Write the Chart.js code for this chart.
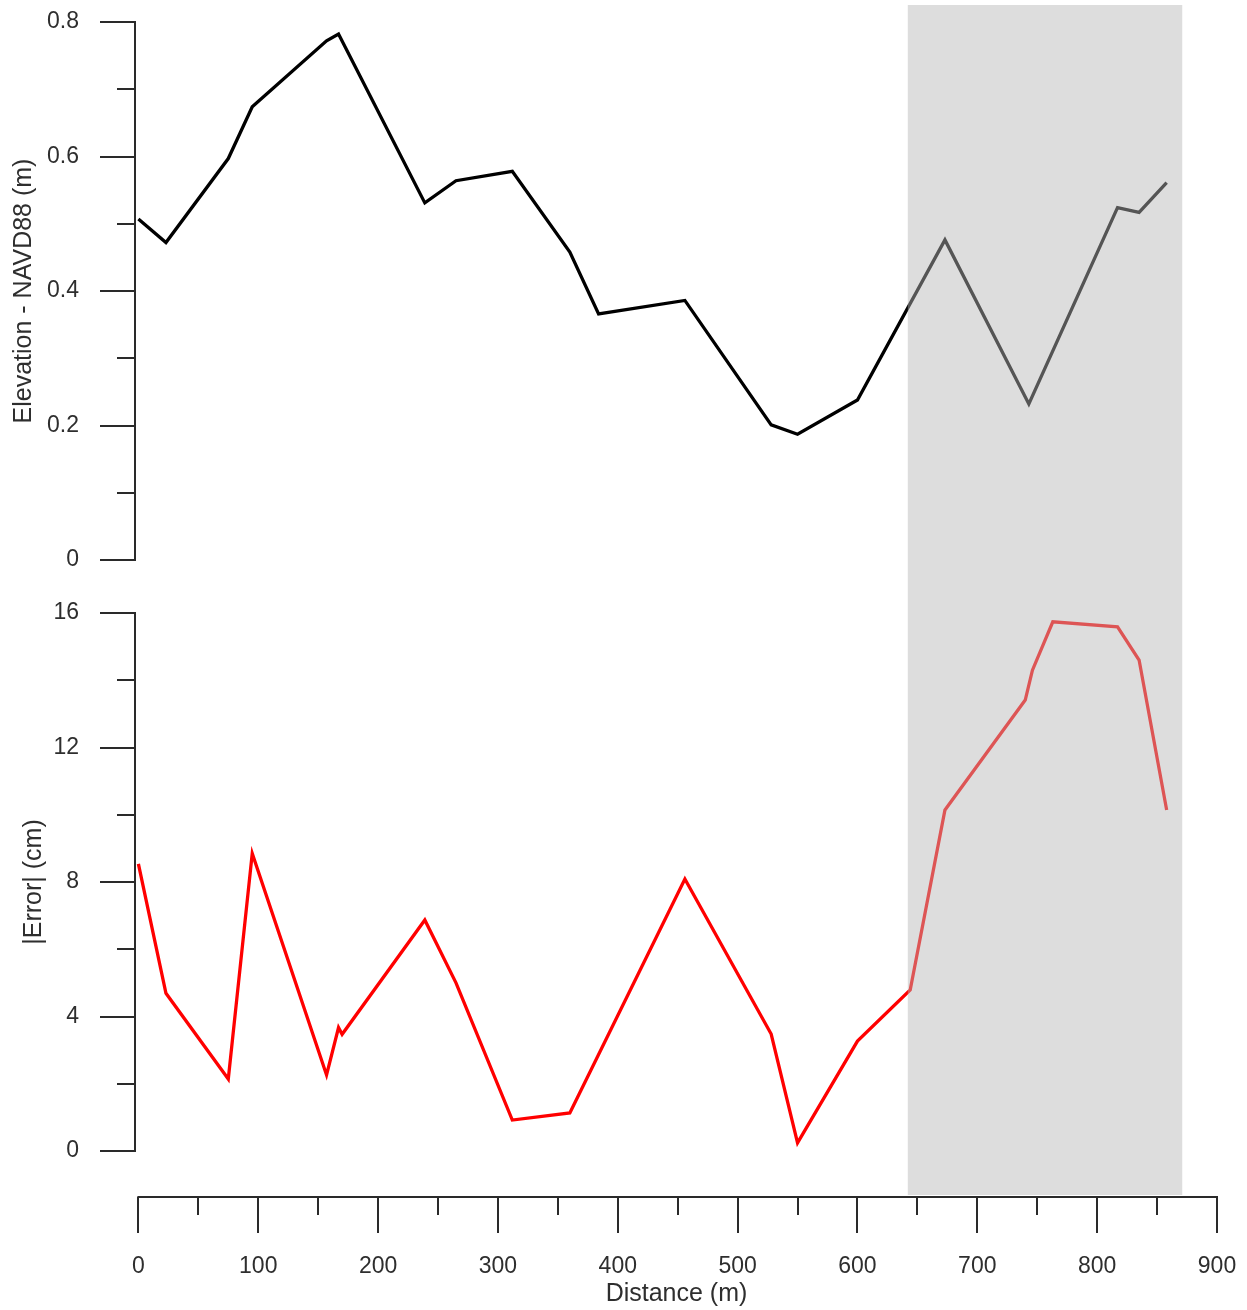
<!DOCTYPE html>
<html>
<head>
<meta charset="utf-8">
<script src="https://cdn.jsdelivr.net/npm/chart.js@4.4.1/dist/chart.umd.min.js"></script>
<style>
  html, body { margin: 0; padding: 0; background: #fff; }
  #wrap { width: 1247px; height: 1310px; }
</style>
</head>
<body>
<div id="wrap"><canvas id="profile"></canvas></div>
<script>
// Transect profile: elevation (top) and absolute error (bottom) vs distance
const elevDistance = [0, 23, 75, 95, 157, 167, 239, 265, 312, 360, 384, 456, 528, 550, 600, 673, 743, 817, 835, 858];
const elevation = [0.507, 0.472, 0.597, 0.674, 0.772, 0.782, 0.531, 0.564, 0.578, 0.458, 0.366, 0.386, 0.201, 0.187, 0.238, 0.476, 0.232, 0.524, 0.517, 0.561];

const errorDistance = [0, 23, 75, 95, 157, 167, 170, 239, 265, 312, 360, 456, 528, 550, 600, 644, 673, 740, 746, 763, 817, 835, 858];
const errorCm = [8.54, 4.69, 2.14, 8.85, 2.26, 3.67, 3.47, 6.87, 5.0, 0.92, 1.13, 8.09, 3.48, 0.24, 3.27, 4.79, 10.14, 13.41, 14.3, 15.74, 15.59, 14.6, 10.14];

// shaded stretch of the transect (m)
const shadeRange = [642, 871];

// tick labels
const distanceTicks = [0, 100, 200, 300, 400, 500, 600, 700, 800, 900];
const elevationTicks = [0, 0.2, 0.4, 0.6, 0.8];
const errorTicks = [0, 4, 8, 12, 16];

const textColor = '#2e2e2e';
const axisColor = '#2a2a2a';
const fontFamily = '"Liberation Sans", Arial, sans-serif';
const tickFont = { family: fontFamily, size: 23 };

function toPoints(xs, ys) {
  return xs.map((x, i) => ({ x: x, y: ys[i] }));
}

// minor ticks sit halfway between the labelled ones
function midpoints(arr) {
  const out = [];
  for (let i = 0; i < arr.length - 1; i++) out.push((arr[i] + arr[i + 1]) / 2);
  return out;
}

// labels overhang is handled by hand, so drop chart.js's label padding
function fitY(s) {
  s.width = 136;
  s.paddingTop = 0;
  s.paddingBottom = 0;
}

// axis lines, tick marks, y titles and the grey band
const profilePlugin = {
  id: 'profilePlugin',
  afterDatasetsDraw(chart) {
    const { ctx, chartArea, scales } = chart;
    const x1 = scales.x.getPixelForValue(shadeRange[0]);
    const x2 = scales.x.getPixelForValue(shadeRange[1]);
    ctx.save();
    ctx.fillStyle = 'rgba(182,182,182,0.467)';
    ctx.fillRect(x1, chartArea.top, x2 - x1, chartArea.bottom - 1 - chartArea.top);
    ctx.restore();
  },
  afterDraw(chart) {
    const { ctx, chartArea, scales } = chart;
    ctx.save();
    ctx.strokeStyle = axisColor;
    ctx.lineWidth = 2;

    const axisX = chartArea.left - 1;
    [[scales.yElev, elevationTicks], [scales.yErr, errorTicks]].forEach(([scale, ticks]) => {
      const yLow = scale.getPixelForValue(ticks[0]);
      const yHigh = scale.getPixelForValue(ticks[ticks.length - 1]);
      ctx.beginPath();
      ctx.moveTo(axisX, yLow + 1);
      ctx.lineTo(axisX, yHigh - 1);
      ticks.forEach(v => {
        const y = Math.round(scale.getPixelForValue(v));
        ctx.moveTo(axisX - 35, y);
        ctx.lineTo(axisX, y);
      });
      midpoints(ticks).forEach(v => {
        const y = Math.round(scale.getPixelForValue(v));
        ctx.moveTo(axisX - 18, y);
        ctx.lineTo(axisX, y);
      });
      ctx.stroke();
    });

    const axisY = chartArea.bottom + 1;
    const xs = scales.x;
    ctx.beginPath();
    ctx.moveTo(xs.getPixelForValue(0) - 1, axisY);
    ctx.lineTo(xs.getPixelForValue(900) + 1, axisY);
    distanceTicks.forEach(v => {
      const x = Math.round(xs.getPixelForValue(v));
      ctx.moveTo(x, axisY);
      ctx.lineTo(x, axisY + 36);
    });
    midpoints(distanceTicks).forEach(v => {
      const x = Math.round(xs.getPixelForValue(v));
      ctx.moveTo(x, axisY);
      ctx.lineTo(x, axisY + 18);
    });
    ctx.stroke();

    // y axis titles
    ctx.fillStyle = textColor;
    ctx.font = '25px ' + fontFamily;
    ctx.textAlign = 'center';
    ctx.textBaseline = 'middle';
    const titles = [
      [scales.yElev, elevationTicks, 'Elevation - NAVD88 (m)', 24],
      [scales.yErr, errorTicks, '|Error| (cm)', 34]
    ];
    titles.forEach(([scale, ticks, text, tx]) => {
      const mid = (scale.getPixelForValue(ticks[0]) + scale.getPixelForValue(ticks[ticks.length - 1])) / 2;
      ctx.save();
      ctx.translate(tx, mid);
      ctx.rotate(-Math.PI / 2);
      ctx.fillText(text, 0, 0);
      ctx.restore();
    });
    ctx.restore();
  }
};

const ctx = document.getElementById('profile').getContext('2d');
const chart = new Chart(ctx, {
  type: 'scatter',
  data: {
    datasets: [
      {
        label: 'Elevation',
        data: toPoints(elevDistance, elevation),
        yAxisID: 'yElev',
        showLine: true,
        borderColor: '#000000',
        borderWidth: 3.3,
        pointRadius: 0,
        fill: false
      },
      {
        label: '|Error|',
        data: toPoints(errorDistance, errorCm),
        yAxisID: 'yErr',
        showLine: true,
        borderColor: '#ff0000',
        borderWidth: 3.3,
        pointRadius: 0,
        fill: false
      }
    ]
  },
  options: {
    responsive: true,
    maintainAspectRatio: false,
    animation: false,
    layout: { padding: { top: 5, right: 30, bottom: 1, left: 0 } },
    plugins: {
      legend: { display: false },
      tooltip: { enabled: false }
    },
    scales: {
      x: {
        type: 'linear',
        position: 'bottom',
        min: -2,
        max: 900,
        afterBuildTicks: s => { s.ticks = distanceTicks.map(v => ({ value: v })); },
        afterFit: s => { s.height = 113; s.paddingLeft = 0; s.paddingRight = 0; },
        grid: { display: false },
        border: { display: false },
        ticks: {
          color: textColor,
          font: tickFont,
          padding: 49,
          maxRotation: 0,
          autoSkip: false,
          callback: v => String(v)
        },
        title: {
          display: true,
          text: 'Distance (m)',
          color: textColor,
          font: { family: fontFamily, size: 25 },
          padding: 0
        }
      },
      yElev: {
        type: 'linear',
        position: 'left',
        stack: 'panels',
        stackWeight: 581.5,
        weight: 2,
        min: -0.0394,
        max: 0.8253,
        afterBuildTicks: s => { s.ticks = elevationTicks.map(v => ({ value: v })); },
        afterFit: fitY,
        grid: { display: false },
        border: { display: false },
        ticks: { color: textColor, font: tickFont, padding: 49, callback: v => String(v) }
      },
      yErr: {
        type: 'linear',
        position: 'left',
        stack: 'panels',
        stackWeight: 609.5,
        weight: 1,
        min: -1.338,
        max: 16.788,
        afterBuildTicks: s => { s.ticks = errorTicks.map(v => ({ value: v })); },
        afterFit: fitY,
        grid: { display: false },
        border: { display: false },
        ticks: { color: textColor, font: tickFont, padding: 49, callback: v => String(v) }
      }
    }
  },
  plugins: [profilePlugin]
});
</script>
</body>
</html>
